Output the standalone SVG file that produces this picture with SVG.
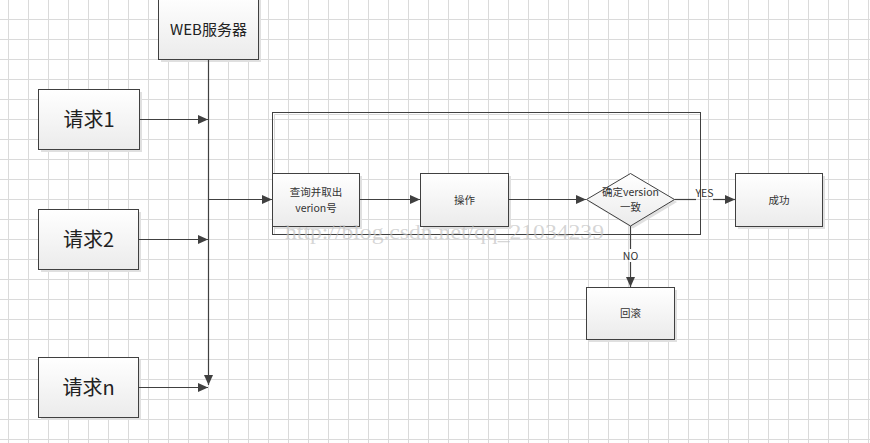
<svg xmlns="http://www.w3.org/2000/svg" width="870" height="443" viewBox="0 0 870 443">
<defs>
<pattern id="grid" x="8" y="19" width="20" height="20" patternUnits="userSpaceOnUse">
<path d="M0.5 0V20M0 0.5H20" stroke="#dadada" stroke-width="1" fill="none"/>
</pattern>
<linearGradient id="fill" x1="0" y1="0" x2="0" y2="1">
<stop offset="0" stop-color="#ffffff"/>
<stop offset="1" stop-color="#ebebeb"/>
</linearGradient>
<marker id="arr" markerUnits="userSpaceOnUse" markerWidth="10" markerHeight="9" refX="10" refY="4.5" orient="auto">
<path d="M0,0 L10,4.5 L0,9 z" fill="#404040"/>
</marker>
</defs>
<style>
.box{fill:url(#fill);stroke:#404040;stroke-width:1}
.sh{fill:#e0e0e0}
.line{fill:none;stroke:#404040;stroke-width:1.2}
.big{font-family:"Noto Sans CJK SC","Liberation Sans",sans-serif;font-size:20px;fill:#222;text-anchor:middle}
.mid{font-family:"Noto Sans CJK SC","Liberation Sans",sans-serif;font-size:15px;fill:#222;text-anchor:middle}
.sm{font-family:"Noto Sans CJK SC","Liberation Sans",sans-serif;font-size:10.5px;fill:#333;text-anchor:middle}
</style>
<rect width="870" height="443" fill="#ffffff"/>
<rect width="870" height="443" fill="url(#grid)"/>

<g id="container">
<rect x="272.5" y="112.5" width="428" height="122" fill="none" stroke="#404040" stroke-width="1"/>
<path d="M274.5,234 V114.5 H700" fill="none" stroke="#d8d8d8" stroke-width="1"/>
</g>

<g id="web">
<rect class="sh" x="161" y="-5" width="100" height="67"/>
<rect class="box" x="158.5" y="-5" width="100" height="64.5"/>
<text class="mid" x="208.5" y="35">WEB服务器</text>
</g>
<g id="req1">
<rect class="sh" x="41" y="92" width="101" height="60"/>
<rect class="box" x="38.5" y="89.5" width="101" height="60"/>
<text class="big" x="89" y="127">请求1</text>
</g>
<g id="req2">
<rect class="sh" x="41" y="212" width="100" height="60"/>
<rect class="box" x="38.5" y="209.5" width="100" height="60"/>
<text class="big" x="88.5" y="247">请求2</text>
</g>
<g id="reqn">
<rect class="sh" x="41" y="360" width="100" height="60"/>
<rect class="box" x="38.5" y="357.5" width="100" height="60"/>
<text class="big" x="88.5" y="395">请求n</text>
</g>
<g id="query">
<rect class="sh" x="275" y="176" width="87" height="53"/>
<rect class="box" x="272.5" y="173.5" width="87" height="53"/>
<text class="sm" x="316" y="195.5">查询并取出</text>
<text class="sm" x="316" y="211.5">verion号</text>
</g>
<g id="op">
<rect class="sh" x="423" y="176" width="88" height="53"/>
<rect class="box" x="420.5" y="173.5" width="88" height="53"/>
<text class="sm" x="464.5" y="203.5">操作</text>
</g>
<g id="decision">
<polygon points="589,202 633,176 677,202 633,228.5" fill="#e0e0e0"/>
<polygon class="box" points="586.5,199.5 630.5,173.5 674.5,199.5 630.5,226"/>
<text class="sm" x="630.5" y="196">确定version</text>
<text class="sm" x="630.5" y="210.5">一致</text>
</g>
<g id="success">
<rect class="sh" x="738" y="176" width="87" height="53"/>
<rect class="box" x="735.5" y="173.5" width="87" height="53"/>
<text class="sm" x="779" y="203.5">成功</text>
</g>
<g id="rollback">
<rect class="sh" x="589" y="290" width="88" height="52"/>
<rect class="box" x="586.5" y="287.5" width="88" height="52"/>
<text class="sm" x="630.5" y="317">回滚</text>
</g>

<g id="connectors">
<path class="line" d="M208.5,59.5 V385" marker-end="url(#arr)"/>
<path class="line" d="M139.5,119.5 H208" marker-end="url(#arr)"/>
<path class="line" d="M138.5,239.5 H208" marker-end="url(#arr)"/>
<path class="line" d="M138.5,387.5 H208" marker-end="url(#arr)"/>
<path class="line" d="M208.5,199.5 H272" marker-end="url(#arr)"/>
<path class="line" d="M359.5,199.5 H420" marker-end="url(#arr)"/>
<path class="line" d="M508.5,199.5 H586" marker-end="url(#arr)"/>
<path class="line" d="M674.5,199.5 H696"/>
<path class="line" d="M713,199.5 H735" marker-end="url(#arr)"/>
<text class="sm" x="704.5" y="196.5">YES</text>
<path class="line" d="M630.5,226 V249"/>
<path class="line" d="M630.5,262 V287" marker-end="url(#arr)"/>
<text class="sm" x="630.5" y="259.5">NO</text>
</g>

<text x="285" y="239" font-family="Liberation Serif, serif" font-size="20" fill="#c4c4c4" fill-opacity="0.7" textLength="319" lengthAdjust="spacingAndGlyphs">http://blog.csdn.net/qq_21034239</text>
</svg>
